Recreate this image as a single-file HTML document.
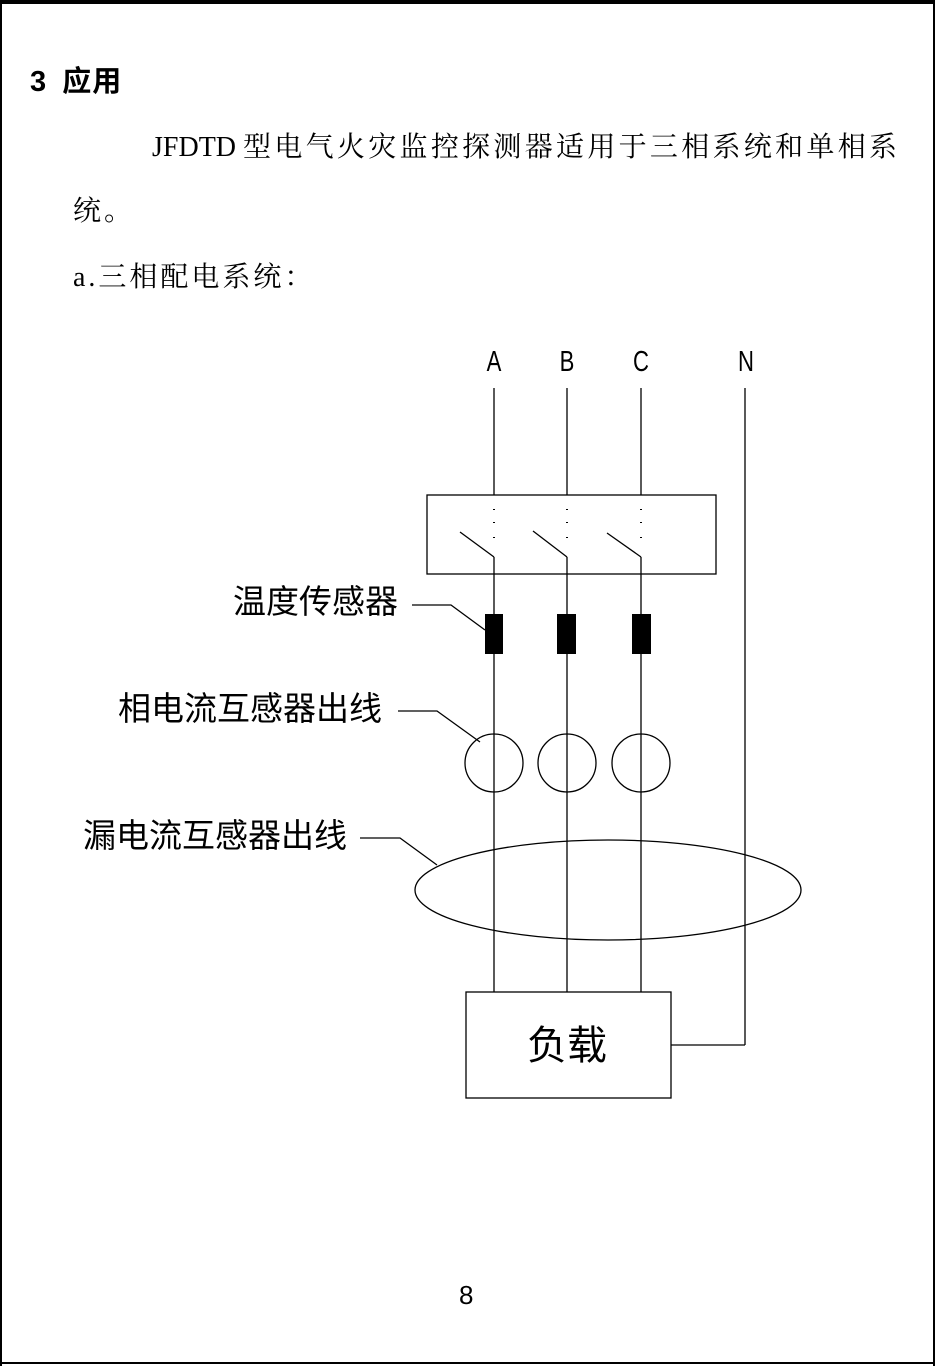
<!DOCTYPE html>
<html><head><meta charset="utf-8"><style>
html,body{margin:0;padding:0;background:#fff;}
body{width:935px;height:1366px;position:relative;overflow:hidden;}
.t{position:absolute;white-space:nowrap;color:#000;font-family:"Liberation Serif","Noto Serif CJK SC",serif;font-size:28px;line-height:1;}
.s{position:absolute;white-space:nowrap;color:#000;font-family:"Liberation Sans","Noto Sans CJK SC",sans-serif;line-height:1;}
</style></head><body>
<div style="position:absolute;left:0;top:0;width:935px;height:4px;background:#000"></div>
<div style="position:absolute;left:0;top:0;width:2px;height:1366px;background:#000"></div>
<div style="position:absolute;right:0;top:0;width:2px;height:1366px;background:#000"></div>
<div style="position:absolute;left:0;bottom:2px;width:935px;height:2px;background:#000"></div>

<div class="t" style="left:30px;top:68px;font-size:29px;font-family:'Liberation Sans','Noto Sans CJK SC',sans-serif;font-weight:bold;">3&nbsp; <span style="letter-spacing:1px">应用</span></div>
<div class="t" style="left:152px;top:134px;"><span style="letter-spacing:0px">JFDTD</span>&nbsp;<span style="letter-spacing:3.3px">型电气火灾监控探测器适用于三相系统和单相系</span></div>
<div class="t" style="left:73px;top:198px;letter-spacing:3px;">统。</div>
<div class="t" style="left:73px;top:264px;letter-spacing:3px;">a.三相配电系统：</div>

<svg width="935" height="1366" style="position:absolute;left:0;top:0" xmlns="http://www.w3.org/2000/svg">
<g font-family="Liberation Sans, sans-serif" font-size="26" text-anchor="middle">
<text x="494" y="371" transform="translate(494 371) scale(0.85 1.1) translate(-494 -371)">A</text>
<text x="567" y="371" transform="translate(567 371) scale(0.85 1.1) translate(-567 -371)">B</text>
<text x="641" y="371" transform="translate(641 371) scale(0.85 1.1) translate(-641 -371)">C</text>
<text x="746" y="371" transform="translate(746 371) scale(0.85 1.1) translate(-746 -371)">N</text>
</g>
<g stroke="#000" stroke-width="1.3" fill="none">
<line x1="494" y1="388" x2="494" y2="495"/><line x1="567" y1="388" x2="567" y2="495"/><line x1="641" y1="388" x2="641" y2="495"/>
<line x1="745" y1="388" x2="745" y2="1045"/><line x1="745" y1="1045" x2="671" y2="1045"/>
<rect x="427" y="495" width="289" height="79"/>
<line x1="460" y1="532" x2="494" y2="557"/><line x1="533" y1="531" x2="567" y2="557"/><line x1="607" y1="533" x2="641" y2="557"/>
<line x1="494" y1="557" x2="494" y2="992"/><line x1="567" y1="557" x2="567" y2="992"/><line x1="641" y1="557" x2="641" y2="992"/>
<circle cx="494" cy="763" r="29"/><circle cx="567" cy="763" r="29"/><circle cx="641" cy="763" r="29"/>
<ellipse cx="608" cy="890" rx="193" ry="50"/>
<rect x="466" y="992" width="205" height="106"/>
<polyline points="412,605 451,605 485,630"/>
<polyline points="398,711 437,711 480,742"/>
<polyline points="360,838 400,838 437,865"/>
</g>
<g fill="#000">
<rect x="485" y="614" width="18" height="40"/><rect x="557" y="614" width="19" height="40"/><rect x="632" y="614" width="19" height="40"/>
<rect x="493" y="509" width="2" height="1"/><rect x="493" y="522" width="2" height="1"/><rect x="493" y="537" width="2" height="1"/>
<rect x="566" y="509" width="2" height="1"/><rect x="566" y="522" width="2" height="1"/><rect x="566" y="537" width="2" height="1"/>
<rect x="640" y="509" width="2" height="1"/><rect x="640" y="522" width="2" height="1"/><rect x="640" y="537" width="2" height="1"/>
</g>
</svg>

<div class="s" style="left:233px;top:585px;font-size:33px;">温度传感器</div>
<div class="s" style="left:118px;top:692px;font-size:33px;">相电流互感器出线</div>
<div class="s" style="left:83px;top:819px;font-size:33px;">漏电流互感器出线</div>
<div class="s" style="left:527px;top:1026px;font-size:40px;">负载</div>
<div class="s" style="left:459px;top:1282px;font-size:26px;">8</div>
</body></html>
